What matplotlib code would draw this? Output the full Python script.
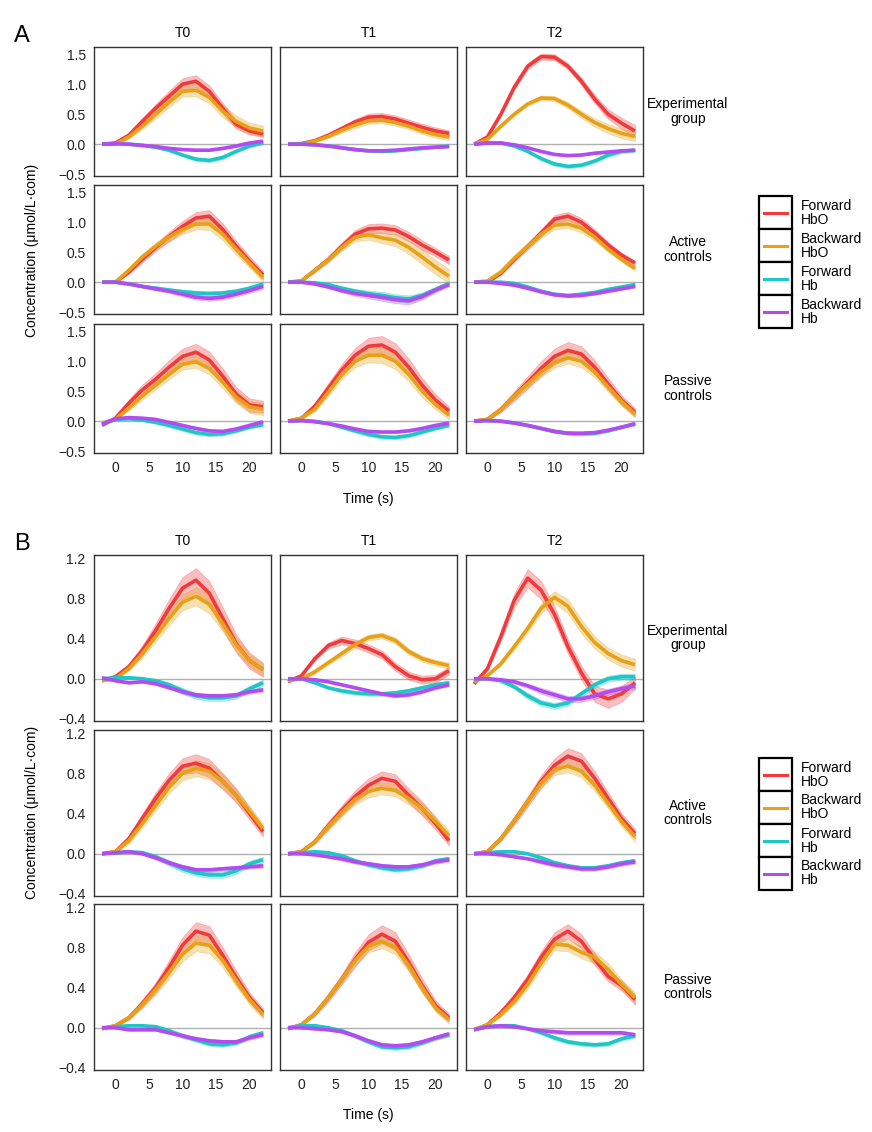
import numpy as np
import matplotlib.pyplot as plt
from matplotlib.patches import Rectangle

plt.rcParams['font.family'] = ['Liberation Sans', 'DejaVu Sans']

# time axis (s), every 2 s
time = [-2, 0, 2, 4, 6, 8, 10, 12, 14, 16, 18, 20, 22]

col_titles = ["T0", "T1", "T2"]
row_titles = ["Experimental\ngroup", "Active\ncontrols", "Passive\ncontrols"]
series_names = ["Forward\nHbO", "Backward\nHbO", "Forward\nHb", "Backward\nHb"]
colors = ["#F23A3C", "#E6A117", "#1EC6C6", "#B34BF0"]

# ---- panel A : rows = group, cols = T0/T1/T2 ----
A_fwd_hbo = [
    [[0, 0.02, 0.15, 0.38, 0.6, 0.8, 1.0, 1.05, 0.88, 0.6, 0.33, 0.22, 0.17],
     [0, 0.01, 0.06, 0.15, 0.26, 0.37, 0.45, 0.46, 0.42, 0.35, 0.28, 0.22, 0.18],
     [0, 0.12, 0.5, 0.95, 1.3, 1.46, 1.45, 1.3, 1.05, 0.75, 0.5, 0.35, 0.22]],
    [[0, 0.0, 0.17, 0.38, 0.58, 0.76, 0.93, 1.07, 1.1, 0.88, 0.6, 0.35, 0.12],
     [0, 0.02, 0.2, 0.38, 0.6, 0.8, 0.89, 0.9, 0.87, 0.76, 0.62, 0.5, 0.37],
     [0, 0.0, 0.15, 0.38, 0.6, 0.82, 1.05, 1.1, 1.0, 0.82, 0.62, 0.45, 0.32]],
    [[-0.07, 0.05, 0.3, 0.52, 0.7, 0.9, 1.08, 1.15, 1.02, 0.75, 0.45, 0.27, 0.24],
     [0, 0.05, 0.25, 0.55, 0.85, 1.1, 1.25, 1.27, 1.15, 0.9, 0.6, 0.35, 0.17],
     [0, 0.03, 0.2, 0.42, 0.65, 0.88, 1.08, 1.18, 1.12, 0.9, 0.62, 0.35, 0.15]],
]
A_bwd_hbo = [
    [[0, 0.0, 0.12, 0.3, 0.5, 0.7, 0.88, 0.9, 0.78, 0.55, 0.38, 0.27, 0.22],
     [0, 0.0, 0.05, 0.13, 0.23, 0.32, 0.39, 0.4, 0.36, 0.3, 0.22, 0.16, 0.12],
     [0, 0.08, 0.3, 0.5, 0.67, 0.77, 0.76, 0.65, 0.5, 0.36, 0.26, 0.18, 0.13]],
    [[0, 0.0, 0.2, 0.42, 0.6, 0.75, 0.88, 0.97, 0.97, 0.8, 0.55, 0.32, 0.08],
     [0, 0.02, 0.2, 0.37, 0.58, 0.75, 0.79, 0.74, 0.7, 0.58, 0.42, 0.25, 0.1],
     [0, 0.02, 0.17, 0.4, 0.6, 0.8, 0.95, 0.97, 0.9, 0.75, 0.55, 0.38, 0.23]],
    [[-0.03, 0.03, 0.22, 0.42, 0.6, 0.78, 0.95, 0.99, 0.88, 0.65, 0.4, 0.24, 0.2],
     [0, 0.05, 0.2, 0.48, 0.78, 1.0, 1.1, 1.1, 1.0, 0.78, 0.5, 0.28, 0.1],
     [0, 0.03, 0.2, 0.42, 0.62, 0.82, 0.98, 1.06, 1.0, 0.82, 0.57, 0.33, 0.12]],
]
A_fwd_hb = [
    [[0, 0.01, 0.0, -0.02, -0.05, -0.1, -0.18, -0.25, -0.27, -0.22, -0.12, -0.03, 0.02],
     [0, 0, -0.01, -0.03, -0.06, -0.09, -0.11, -0.12, -0.11, -0.09, -0.07, -0.05, -0.03],
     [0, 0.02, 0.02, -0.03, -0.12, -0.24, -0.33, -0.37, -0.35, -0.28, -0.18, -0.12, -0.1]],
    [[0, 0, -0.03, -0.07, -0.1, -0.13, -0.16, -0.18, -0.19, -0.18, -0.15, -0.1, -0.03],
     [0, 0, -0.01, -0.04, -0.1, -0.15, -0.19, -0.22, -0.26, -0.28, -0.22, -0.12, -0.02],
     [0, 0, 0, -0.02, -0.08, -0.15, -0.2, -0.22, -0.2, -0.17, -0.12, -0.08, -0.04]],
    [[-0.05, 0.03, 0.04, 0.02, -0.02, -0.07, -0.13, -0.19, -0.22, -0.21, -0.16, -0.1, -0.06],
     [0, 0.01, 0, -0.04, -0.1, -0.16, -0.22, -0.26, -0.27, -0.24, -0.18, -0.12, -0.07],
     [0, 0.01, 0, -0.03, -0.07, -0.12, -0.17, -0.2, -0.21, -0.2, -0.16, -0.1, -0.05]],
]
A_bwd_hb = [
    [[0, 0.01, 0.0, -0.02, -0.04, -0.07, -0.09, -0.1, -0.1, -0.07, -0.03, 0.02, 0.05],
     [0, 0, -0.01, -0.03, -0.06, -0.09, -0.11, -0.11, -0.1, -0.08, -0.06, -0.05, -0.04],
     [0, 0.02, 0.02, -0.01, -0.06, -0.12, -0.17, -0.19, -0.18, -0.15, -0.13, -0.11, -0.1]],
    [[0, 0, -0.03, -0.07, -0.11, -0.15, -0.2, -0.25, -0.27, -0.25, -0.2, -0.14, -0.07],
     [0, 0, -0.03, -0.08, -0.14, -0.19, -0.22, -0.25, -0.29, -0.31, -0.24, -0.13, -0.04],
     [0, 0, -0.02, -0.05, -0.1, -0.16, -0.21, -0.23, -0.22, -0.19, -0.15, -0.11, -0.07]],
    [[-0.05, 0.04, 0.06, 0.05, 0.03, -0.02, -0.07, -0.12, -0.16, -0.17, -0.13, -0.07, -0.01],
     [0, 0.01, -0.01, -0.04, -0.08, -0.13, -0.17, -0.18, -0.18, -0.16, -0.12, -0.07, -0.03],
     [0, 0.01, 0, -0.03, -0.07, -0.12, -0.17, -0.2, -0.2, -0.19, -0.15, -0.1, -0.04]],
]
# standard errors (ribbon half widths)
A_fwd_hbo_se = [
    [[0, .01, .03, .05, .07, .09, .1, .1, .1, .09, .07, .06, .05],
     [0, .01, .02, .03, .04, .05, .06, .06, .06, .06, .06, .06, .05],
     [0, .01, .03, .04, .05, .05, .05, .05, .06, .07, .08, .09, .1]],
    [[0, .01, .03, .05, .06, .08, .09, .1, .1, .1, .09, .08, .07],
     [0, .01, .03, .04, .06, .07, .08, .08, .08, .08, .08, .07, .07],
     [0, .01, .03, .04, .05, .06, .07, .07, .07, .06, .05, .04, .04]],
    [[0, .02, .06, .09, .1, .12, .13, .14, .14, .13, .12, .11, .1],
     [0, .02, .05, .08, .1, .12, .14, .15, .15, .14, .12, .1, .08],
     [0, .02, .05, .08, .1, .12, .13, .14, .13, .12, .1, .08, .07]],
]
A_bwd_hbo_se = [
    [[0, .01, .03, .05, .07, .08, .09, .1, .1, .1, .1, .09, .09],
     [0, .01, .02, .03, .04, .05, .05, .05, .05, .05, .05, .05, .05],
     [0, .01, .02, .03, .03, .04, .04, .05, .06, .07, .08, .08, .08]],
    [[0, .01, .03, .05, .06, .07, .08, .09, .1, .1, .09, .08, .07],
     [0, .01, .03, .04, .06, .07, .08, .09, .1, .11, .12, .12, .12],
     [0, .01, .03, .04, .05, .06, .07, .07, .07, .06, .05, .04, .04]],
    [[0, .02, .04, .06, .07, .08, .09, .1, .1, .1, .1, .1, .1],
     [0, .02, .04, .06, .08, .1, .12, .13, .13, .12, .1, .08, .07],
     [0, .02, .04, .06, .07, .08, .09, .1, .1, .09, .08, .07, .06]],
]
A_fwd_hb_se = [
    [[0, .005, .01, .01, .015, .02, .02, .03, .03, .03, .02, .02, .02],
     [0, .005, .01, .01, .01, .015, .015, .015, .015, .015, .015, .015, .015],
     [0, .005, .01, .015, .02, .025, .03, .03, .03, .03, .03, .03, .03]],
    [[0, .01, .01, .02, .03, .03, .04, .04, .04, .04, .03, .03, .03],
     [0, .01, .01, .02, .03, .04, .05, .06, .06, .06, .05, .04, .03],
     [0, .005, .01, .01, .015, .02, .02, .02, .02, .02, .02, .02, .02]],
    [[0, .01, .01, .02, .02, .03, .03, .03, .03, .03, .03, .02, .02],
     [0, .01, .01, .02, .02, .03, .03, .03, .03, .03, .03, .02, .02],
     [0, .01, .01, .02, .02, .02, .03, .03, .03, .03, .02, .02, .02]],
]
A_bwd_hb_se = [
    [[0, .005, .01, .01, .01, .01, .01, .015, .015, .015, .02, .02, .02],
     [0, .005, .01, .01, .01, .015, .015, .015, .015, .015, .015, .015, .015],
     [0, .005, .01, .01, .015, .015, .015, .015, .015, .015, .015, .015, .015]],
    [[0, .01, .01, .02, .03, .03, .04, .04, .04, .04, .04, .04, .04],
     [0, .01, .01, .02, .03, .04, .05, .06, .06, .06, .05, .04, .03],
     [0, .005, .01, .015, .02, .02, .02, .02, .02, .02, .02, .02, .02]],
    [[0, .01, .01, .01, .02, .02, .02, .02, .02, .02, .02, .02, .02],
     [0, .01, .01, .01, .01, .02, .02, .02, .02, .02, .02, .02, .02],
     [0, .01, .01, .01, .02, .02, .02, .02, .02, .02, .02, .02, .02]],
]

# ---- panel B ----
B_fwd_hbo = [
    [[-0.02, 0.02, 0.12, 0.28, 0.48, 0.7, 0.9, 0.98, 0.85, 0.6, 0.35, 0.18, 0.09],
     [-0.03, 0.03, 0.2, 0.33, 0.38, 0.35, 0.3, 0.24, 0.12, 0.03, -0.01, 0.0, 0.08],
     [-0.05, 0.1, 0.42, 0.78, 1.0, 0.88, 0.64, 0.32, 0.06, -0.15, -0.2, -0.15, -0.04]],
    [[0, 0.02, 0.15, 0.35, 0.55, 0.73, 0.87, 0.9, 0.85, 0.72, 0.58, 0.4, 0.22],
     [0, 0.02, 0.12, 0.28, 0.43, 0.57, 0.68, 0.75, 0.72, 0.58, 0.45, 0.3, 0.13],
     [0, 0.02, 0.15, 0.33, 0.52, 0.72, 0.88, 0.97, 0.92, 0.75, 0.55, 0.35, 0.2]],
    [[-0.01, 0.02, 0.1, 0.24, 0.4, 0.6, 0.82, 0.96, 0.92, 0.72, 0.5, 0.3, 0.15],
     [-0.01, 0.03, 0.14, 0.3, 0.48, 0.68, 0.85, 0.93, 0.86, 0.65, 0.42, 0.22, 0.1],
     [-0.02, 0.03, 0.15, 0.3, 0.48, 0.7, 0.88, 0.96, 0.86, 0.68, 0.51, 0.42, 0.28]],
]
B_bwd_hbo = [
    [[-0.02, 0.0, 0.1, 0.25, 0.42, 0.6, 0.76, 0.82, 0.74, 0.55, 0.34, 0.18, 0.09],
     [-0.02, 0.0, 0.07, 0.16, 0.25, 0.34, 0.41, 0.43, 0.38, 0.27, 0.2, 0.16, 0.13],
     [-0.03, 0.03, 0.15, 0.32, 0.5, 0.7, 0.81, 0.72, 0.52, 0.36, 0.25, 0.18, 0.14]],
    [[0, 0.02, 0.13, 0.3, 0.48, 0.66, 0.8, 0.85, 0.82, 0.72, 0.58, 0.42, 0.25],
     [0, 0.02, 0.12, 0.27, 0.41, 0.54, 0.62, 0.65, 0.63, 0.55, 0.45, 0.32, 0.18],
     [0, 0.02, 0.15, 0.33, 0.52, 0.7, 0.84, 0.87, 0.82, 0.68, 0.5, 0.32, 0.17]],
    [[-0.01, 0.02, 0.1, 0.23, 0.38, 0.55, 0.73, 0.84, 0.82, 0.67, 0.47, 0.28, 0.13],
     [-0.01, 0.03, 0.14, 0.3, 0.48, 0.67, 0.81, 0.86, 0.8, 0.62, 0.4, 0.2, 0.08],
     [-0.02, 0.03, 0.13, 0.26, 0.43, 0.64, 0.83, 0.82, 0.75, 0.7, 0.58, 0.43, 0.3]],
]
B_fwd_hb = [
    [[0, 0.01, 0.01, 0.0, -0.02, -0.06, -0.12, -0.17, -0.19, -0.19, -0.17, -0.1, -0.04],
     [0, 0, -0.04, -0.09, -0.12, -0.14, -0.15, -0.15, -0.14, -0.12, -0.09, -0.06, -0.04],
     [0, 0, -0.02, -0.08, -0.17, -0.24, -0.27, -0.24, -0.15, -0.06, 0.0, 0.02, 0.02]],
    [[0, 0.01, 0.02, 0.01, -0.03, -0.09, -0.15, -0.19, -0.21, -0.21, -0.17, -0.1, -0.06],
     [0, 0.01, 0.02, 0.01, -0.02, -0.07, -0.11, -0.14, -0.16, -0.15, -0.12, -0.07, -0.05],
     [0, 0.01, 0.02, 0.02, 0.0, -0.04, -0.09, -0.12, -0.14, -0.14, -0.12, -0.09, -0.07]],
    [[0, 0.01, 0.02, 0.02, 0.01, -0.03, -0.08, -0.12, -0.16, -0.17, -0.15, -0.09, -0.05],
     [0, 0.02, 0.02, 0.0, -0.03, -0.08, -0.14, -0.19, -0.2, -0.19, -0.15, -0.1, -0.07],
     [-0.02, 0.01, 0.02, 0.02, -0.01, -0.05, -0.1, -0.14, -0.16, -0.17, -0.16, -0.11, -0.08]],
]
B_bwd_hb = [
    [[0.01, -0.02, -0.04, -0.03, -0.05, -0.09, -0.13, -0.16, -0.17, -0.17, -0.16, -0.13, -0.11],
     [0, 0, -0.01, -0.03, -0.06, -0.09, -0.12, -0.15, -0.17, -0.16, -0.13, -0.09, -0.06],
     [0, 0.0, -0.01, -0.03, -0.07, -0.12, -0.16, -0.2, -0.2, -0.17, -0.13, -0.1, -0.07]],
    [[0, 0.01, 0.02, 0.0, -0.04, -0.09, -0.13, -0.16, -0.16, -0.15, -0.14, -0.13, -0.12],
     [0, 0, -0.01, -0.03, -0.05, -0.08, -0.1, -0.12, -0.13, -0.13, -0.11, -0.08, -0.06],
     [0, 0.0, -0.01, -0.03, -0.05, -0.08, -0.11, -0.13, -0.15, -0.15, -0.13, -0.1, -0.08]],
    [[0, 0, -0.02, -0.02, -0.02, -0.05, -0.08, -0.11, -0.13, -0.14, -0.14, -0.1, -0.07],
     [0, 0, -0.01, -0.02, -0.04, -0.08, -0.13, -0.17, -0.18, -0.17, -0.14, -0.1, -0.06],
     [-0.02, 0.01, 0.02, 0.01, -0.01, -0.03, -0.04, -0.05, -0.05, -0.05, -0.05, -0.05, -0.07]],
]
B_fwd_hbo_se = [
    [[0, .01, .03, .05, .07, .09, .11, .12, .12, .11, .09, .08, .07],
     [0, .01, .02, .03, .04, .04, .04, .04, .04, .04, .04, .04, .04],
     [0, .02, .04, .07, .09, .09, .08, .07, .07, .08, .09, .08, .06]],
    [[0, .01, .03, .05, .06, .07, .08, .09, .09, .08, .07, .06, .05],
     [0, .01, .02, .04, .05, .06, .07, .07, .07, .07, .07, .06, .05],
     [0, .01, .02, .04, .05, .06, .07, .08, .08, .07, .06, .05, .05]],
    [[0, .01, .02, .04, .05, .07, .08, .09, .09, .08, .07, .05, .04],
     [0, .01, .02, .04, .05, .07, .08, .09, .09, .08, .07, .05, .04],
     [0, .01, .02, .04, .05, .06, .07, .07, .07, .06, .05, .05, .05]],
]
B_bwd_hbo_se = [
    [[0, .01, .02, .04, .05, .07, .08, .09, .09, .08, .07, .06, .06],
     [0, .01, .02, .02, .03, .03, .03, .03, .03, .03, .03, .03, .03],
     [0, .01, .02, .03, .04, .05, .06, .07, .07, .06, .06, .06, .06]],
    [[0, .01, .03, .04, .05, .06, .07, .08, .08, .07, .06, .05, .05],
     [0, .01, .02, .03, .04, .05, .06, .06, .06, .06, .06, .05, .05],
     [0, .01, .02, .03, .04, .05, .06, .06, .06, .06, .05, .05, .05]],
    [[0, .01, .02, .03, .05, .06, .07, .08, .08, .07, .06, .05, .04],
     [0, .01, .02, .03, .04, .05, .06, .07, .07, .06, .05, .04, .04],
     [0, .01, .02, .03, .04, .05, .06, .06, .06, .06, .06, .05, .05]],
]
B_fwd_hb_se = [
    [[0, .01, .01, .01, .02, .02, .03, .03, .03, .03, .03, .03, .03],
     [0, .01, .01, .01, .02, .02, .02, .02, .02, .02, .02, .02, .02],
     [0, .01, .01, .02, .03, .03, .03, .03, .03, .03, .03, .03, .03]],
    [[0, .01, .01, .02, .02, .03, .03, .03, .03, .03, .03, .03, .03],
     [0, .01, .01, .01, .02, .02, .02, .02, .02, .02, .02, .02, .02],
     [0, .01, .01, .01, .01, .02, .02, .02, .02, .02, .02, .02, .02]],
    [[0, .01, .01, .01, .02, .02, .02, .02, .02, .02, .02, .02, .02],
     [0, .01, .01, .01, .02, .02, .02, .02, .02, .02, .02, .02, .02],
     [0, .01, .01, .01, .01, .01, .02, .02, .02, .02, .02, .02, .02]],
]
B_bwd_hb_se = [
    [[0, .01, .01, .01, .01, .01, .02, .02, .02, .02, .02, .02, .02],
     [0, .005, .01, .01, .01, .01, .01, .015, .015, .015, .015, .015, .015],
     [0, .01, .01, .02, .02, .03, .03, .03, .03, .03, .03, .03, .03]],
    [[0, .01, .01, .01, .02, .02, .02, .02, .02, .02, .02, .02, .02],
     [0, .01, .01, .01, .02, .02, .02, .02, .02, .02, .02, .02, .02],
     [0, .01, .01, .01, .01, .02, .02, .02, .02, .02, .02, .02, .02]],
    [[0, .01, .01, .01, .01, .01, .02, .02, .02, .02, .02, .02, .02],
     [0, .01, .01, .01, .01, .02, .02, .02, .02, .02, .02, .02, .02],
     [0, .01, .01, .01, .01, .01, .02, .02, .02, .02, .02, .02, .02]],
]

A_yticks = [-0.5, 0.0, 0.5, 1.0, 1.5]
B_yticks = [-0.4, 0.0, 0.4, 0.8, 1.2]
xticks = [0, 5, 10, 15, 20]

W, H = 872, 1132
fig = plt.figure(figsize=(W / 100, H / 100), dpi=100)


def box(left, top, w, h):
    return [left / W, 1 - (top + h) / H, w / W, h / H]


def fmt(v):
    return f"{v:.1f}".replace("-", "\u2212")


col_left = [94, 280, 466]
col_w = 177


def draw_block(letter, tops, h, means, ses, yticks, ylim, legend_top, time_y):
    t = np.array(time)
    for r in range(3):
        for c in range(3):
            ax = fig.add_axes(box(col_left[c], tops[r], col_w, h))
            ax.axhline(0, color="#b0b0b0", lw=1.0, zorder=1)
            for k in range(4):
                m = np.array(means[k][r][c])
                s = np.array(ses[k][r][c])
                ax.fill_between(t, m - s, m + s, facecolor=colors[k], alpha=0.33,
                                edgecolor=colors[k], linewidth=0.5, zorder=2)
            for k in range(4):
                ax.plot(t, means[k][r][c], color=colors[k], lw=2.6,
                        solid_joinstyle="round", solid_capstyle="butt", zorder=3)
            ax.set_xlim(-3.2, 23.2)
            ax.set_ylim(*ylim)
            ax.set_xticks(xticks)
            ax.set_yticks(yticks)
            ax.tick_params(length=0, labelsize=10, colors="#222222", pad=6)
            if c == 0:
                ax.set_yticklabels([fmt(v) for v in yticks])
            else:
                ax.set_yticklabels([])
            if r == 2:
                ax.set_xticklabels([str(v) for v in xticks])
            else:
                ax.set_xticklabels([])
            for sp in ax.spines.values():
                sp.set_color("#333333")
                sp.set_linewidth(1.0)
            if r == 0:
                ax.set_title(col_titles[c], fontsize=10, pad=7)
            if c == 2:
                fig.text(688 / W, 1 - (tops[r] + h / 2) / H, row_titles[r],
                         ha="center", va="center", fontsize=10, linespacing=1.05)
    # panel letter
    fig.text(22 / W, 1 - (tops[0] - 11) / H, letter, ha="center", va="center", fontsize=17)
    # axis labels
    fig.text(32 / W, 1 - ((tops[0] + tops[2] + h) / 2) / H,
             "Concentration (\u03bcmol/L\u00b7com)", rotation=90,
             ha="center", va="center", fontsize=10)
    fig.text((col_left[1] + col_w / 2) / W, 1 - time_y / H, "Time (s)",
             ha="center", va="center", fontsize=10)
    # legend
    key_h = 33
    lax = fig.add_axes(box(759, legend_top, 33, key_h * 4))
    lax.set_xlim(0, 1)
    lax.set_ylim(4, 0)
    lax.axis("off")
    for k in range(4):
        lax.add_patch(Rectangle((0, k), 1, 1, facecolor="white", edgecolor="black",
                                lw=1.6, clip_on=False))
        lax.plot([0.15, 0.85], [k + 0.5, k + 0.5], color=colors[k], lw=2.2)
        lax.text(1.27, k + 0.5, series_names[k], ha="left", va="center",
                 fontsize=10, linespacing=1.0)


draw_block("A", [47, 185, 324], 129,
           [A_fwd_hbo, A_bwd_hbo, A_fwd_hb, A_bwd_hb],
           [A_fwd_hbo_se, A_bwd_hbo_se, A_fwd_hb_se, A_bwd_hb_se],
           A_yticks, (-0.53, 1.62), 196, 499)
draw_block("B", [555, 730, 904], 166,
           [B_fwd_hbo, B_bwd_hbo, B_fwd_hb, B_bwd_hb],
           [B_fwd_hbo_se, B_bwd_hbo_se, B_fwd_hb_se, B_bwd_hb_se],
           B_yticks, (-0.42, 1.23), 758, 1115)

fig.savefig("out.png", dpi=100, facecolor="white")
